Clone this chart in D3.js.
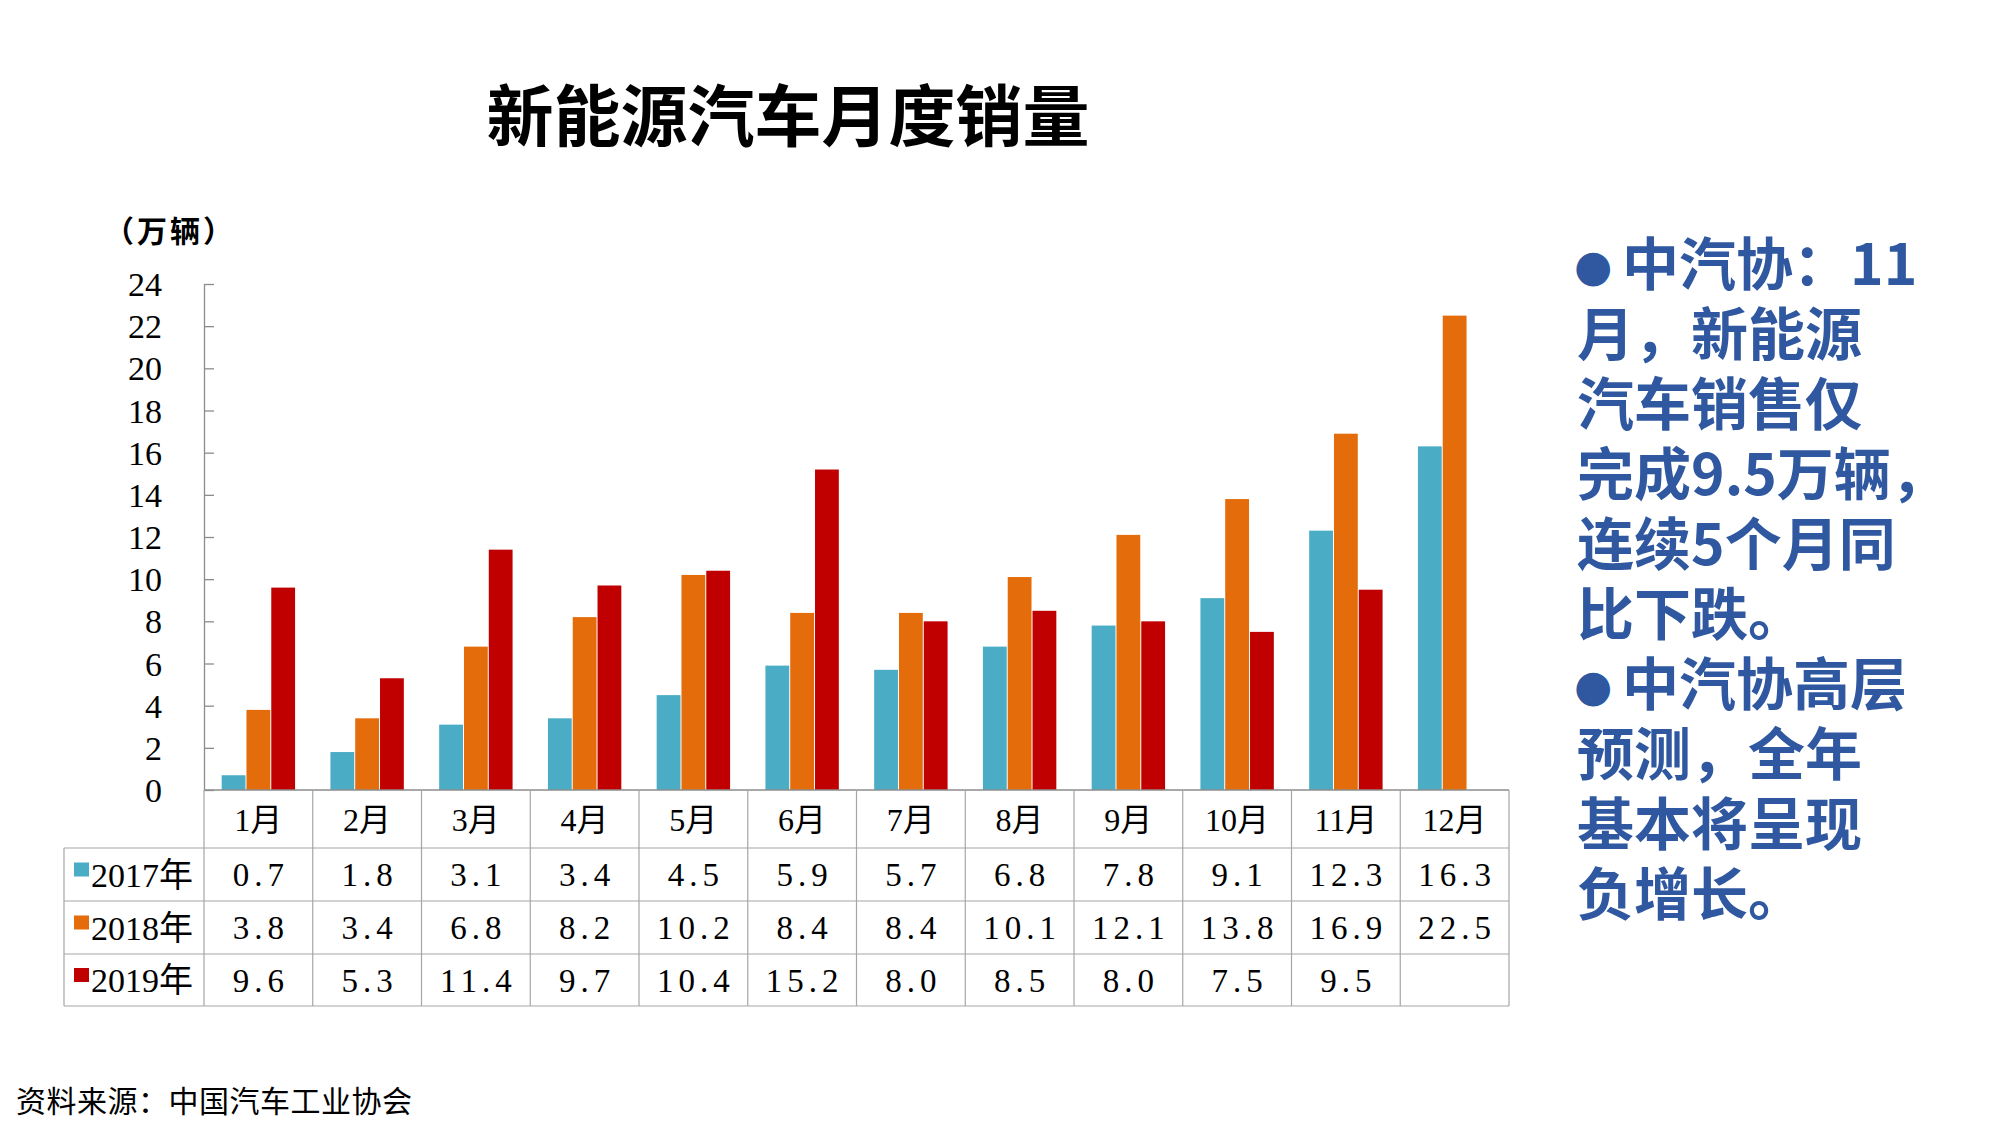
<!DOCTYPE html>
<html>
<head>
<meta charset="utf-8">
<script src="https://cdn.jsdelivr.net/npm/d3@7"></script>
<style>
  html, body { margin: 0; padding: 0; background: #ffffff; }
  svg { display: block; }
</style>
</head>
<body>
<svg id="chart" width="2000" height="1126"></svg>
<script>
// ---------- data ----------
const months = ["1月","2月","3月","4月","5月","6月","7月","8月","9月","10月","11月","12月"];
const seriesNames = ["2017年","2018年","2019年"];
const sales2017 = [0.7, 1.8, 3.1, 3.4, 4.5, 5.9, 5.7, 6.8, 7.8, 9.1, 12.3, 16.3];
const sales2018 = [3.8, 3.4, 6.8, 8.2, 10.2, 8.4, 8.4, 10.1, 12.1, 13.8, 16.9, 22.5];
const sales2019 = [9.6, 5.3, 11.4, 9.7, 10.4, 15.2, 8.0, 8.5, 8.0, 7.5, 9.5, null];
const yTicks = [0, 2, 4, 6, 8, 10, 12, 14, 16, 18, 20, 22, 24];
const titleText = "新能源汽车月度销量";
const unitText = "（万辆）";
const sourceText = "资料来源：中国汽车工业协会";
const noteLines = ["中汽协：11", "月，新能源", "汽车销售仅", "完成9.5万辆，", "连续5个月同", "比下跌。", "中汽协高层", "预测，全年", "基本将呈现", "负增长。"];
const noteBullets = [true, false, false, false, false, false, true, false, false, false];

// ---------- styles ----------
const seriesColors = ["#4BACC6", "#E46C0A", "#C00000"];
const serif = "'Liberation Serif', 'Noto Sans CJK SC', serif";
const cjk = "'Noto Sans CJK SC', sans-serif";
const gridGray = "#A6A6A6";
const noteColor = "#2F58A0";

const allSeries = [sales2017, sales2018, sales2019];

const svg = d3.select("#chart");

// scales
const x = d3.scaleBand().domain(months).range([204, 1509]).paddingInner(0).paddingOuter(0);
const groupW = x.bandwidth() * 0.675;
const xs = d3.scaleBand().domain(seriesNames).range([0, groupW]).paddingInner(0.04).paddingOuter(0);
const y = d3.scaleLinear().domain([0, 24]).range([790, 284]);

// title
svg.append("text")
  .attr("x", 788).attr("y", 141)
  .attr("text-anchor", "middle")
  .attr("font-family", cjk).attr("font-weight", 700)
  .attr("font-size", 67).attr("fill", "#000")
  .text(titleText);

// unit label
svg.append("text")
  .attr("x", 104).attr("y", 242)
  .attr("font-family", cjk).attr("font-weight", 700)
  .attr("font-size", 30).attr("fill", "#000")
  .attr("letter-spacing", "3px")
  .text(unitText);

// bars
const barData = [];
months.forEach((m, i) => {
  seriesNames.forEach((s, j) => {
    const v = allSeries[j][i];
    if (v !== null && v !== undefined) barData.push({ m, s, v, j });
  });
});
svg.append("g").selectAll("rect").data(barData).join("rect")
  .attr("x", d => x(d.m) + (x.bandwidth() - groupW) / 2 + xs(d.s))
  .attr("width", xs.bandwidth())
  .attr("y", d => y(d.v))
  .attr("height", d => y(0) - y(d.v))
  .attr("fill", d => seriesColors[d.j]);

// y axis
const yAxis = d3.axisLeft(y).tickValues(yTicks).tickSizeInner(-10).tickSizeOuter(0).tickPadding(42);
const gy = svg.append("g").attr("transform", "translate(204,0)").call(yAxis);
gy.select(".domain").attr("stroke", "#8C8C8C").attr("stroke-width", 1.3);
gy.selectAll(".tick line").attr("stroke", "#8C8C8C").attr("stroke-width", 1.3);
gy.selectAll(".tick text")
  .attr("font-family", serif).attr("font-size", 34).attr("fill", "#000")
  .attr("dy", "0.34em");

// ---------- data table ----------
const tbl = svg.append("g");
const rowY = [790, 848, 901, 954, 1006];
const tableLeft = 64, tableRight = 1509;
// horizontal lines
tbl.append("line").attr("x1", 204).attr("x2", tableRight).attr("y1", rowY[0]).attr("y2", rowY[0])
  .attr("stroke", "#8C8C8C").attr("stroke-width", 1.3);
rowY.slice(1).forEach(yy => {
  tbl.append("line").attr("x1", tableLeft).attr("x2", tableRight).attr("y1", yy).attr("y2", yy)
    .attr("stroke", gridGray).attr("stroke-width", 1.2);
});
// vertical lines
tbl.append("line").attr("x1", tableLeft).attr("x2", tableLeft).attr("y1", rowY[1]).attr("y2", rowY[4])
  .attr("stroke", gridGray).attr("stroke-width", 1.2);
months.forEach(m => {
  tbl.append("line").attr("x1", x(m)).attr("x2", x(m)).attr("y1", rowY[0]).attr("y2", rowY[4])
    .attr("stroke", gridGray).attr("stroke-width", 1.2);
});
tbl.append("line").attr("x1", tableRight).attr("x2", tableRight).attr("y1", rowY[0]).attr("y2", rowY[4])
  .attr("stroke", gridGray).attr("stroke-width", 1.2);

// month header
tbl.selectAll("text.month").data(months).join("text")
  .attr("class", "month")
  .attr("x", m => x(m) + x.bandwidth() / 2)
  .attr("y", (rowY[0] + rowY[1]) / 2)
  .attr("dy", "0.36em")
  .attr("text-anchor", "middle")
  .attr("font-family", serif).attr("font-size", 32).attr("fill", "#000")
  .text(m => m);

// series rows
seriesNames.forEach((s, j) => {
  const cy = (rowY[j + 1] + rowY[j + 2]) / 2;
  tbl.append("rect")
    .attr("x", 74).attr("y", cy - 12).attr("width", 15).attr("height", 14)
    .attr("fill", seriesColors[j]);
  tbl.append("text")
    .attr("x", 91).attr("y", cy).attr("dy", "0.36em")
    .attr("font-family", serif).attr("font-size", 34).attr("fill", "#000")
    .text(s);
  tbl.selectAll("text.v" + j).data(allSeries[j]).join("text")
    .attr("class", "v" + j)
    .attr("x", (d, i) => x(months[i]) + x.bandwidth() / 2 + 2.5)
    .attr("y", cy).attr("dy", "0.36em")
    .attr("text-anchor", "middle")
    .attr("font-family", serif).attr("font-size", 33).attr("fill", "#000")
    .attr("letter-spacing", "5px")
    .text(d => (d === null || d === undefined) ? "" : d.toFixed(1));
});

// ---------- note text ----------
const note = svg.append("g");
noteLines.forEach((t, i) => {
  const by = 285 + i * 70;
  if (noteBullets[i]) {
    note.append("text")
      .attr("x", 1574).attr("y", by - 4)
      .attr("font-family", "'DejaVu Sans', sans-serif").attr("font-size", 44)
      .attr("fill", noteColor).text("●");
    note.append("text")
      .attr("x", 1622).attr("y", by)
      .attr("font-family", cjk).attr("font-weight", 700).attr("font-size", 57)
      .attr("fill", noteColor).text(t);
  } else {
    note.append("text")
      .attr("x", 1577).attr("y", by)
      .attr("font-family", cjk).attr("font-weight", 700).attr("font-size", 57)
      .attr("fill", noteColor).text(t);
  }
});

// source
svg.append("text")
  .attr("x", 16).attr("y", 1112)
  .attr("font-family", cjk).attr("font-size", 30).attr("fill", "#000")
  .attr("letter-spacing", "0.5px")
  .text(sourceText);
</script>
</body>
</html>
